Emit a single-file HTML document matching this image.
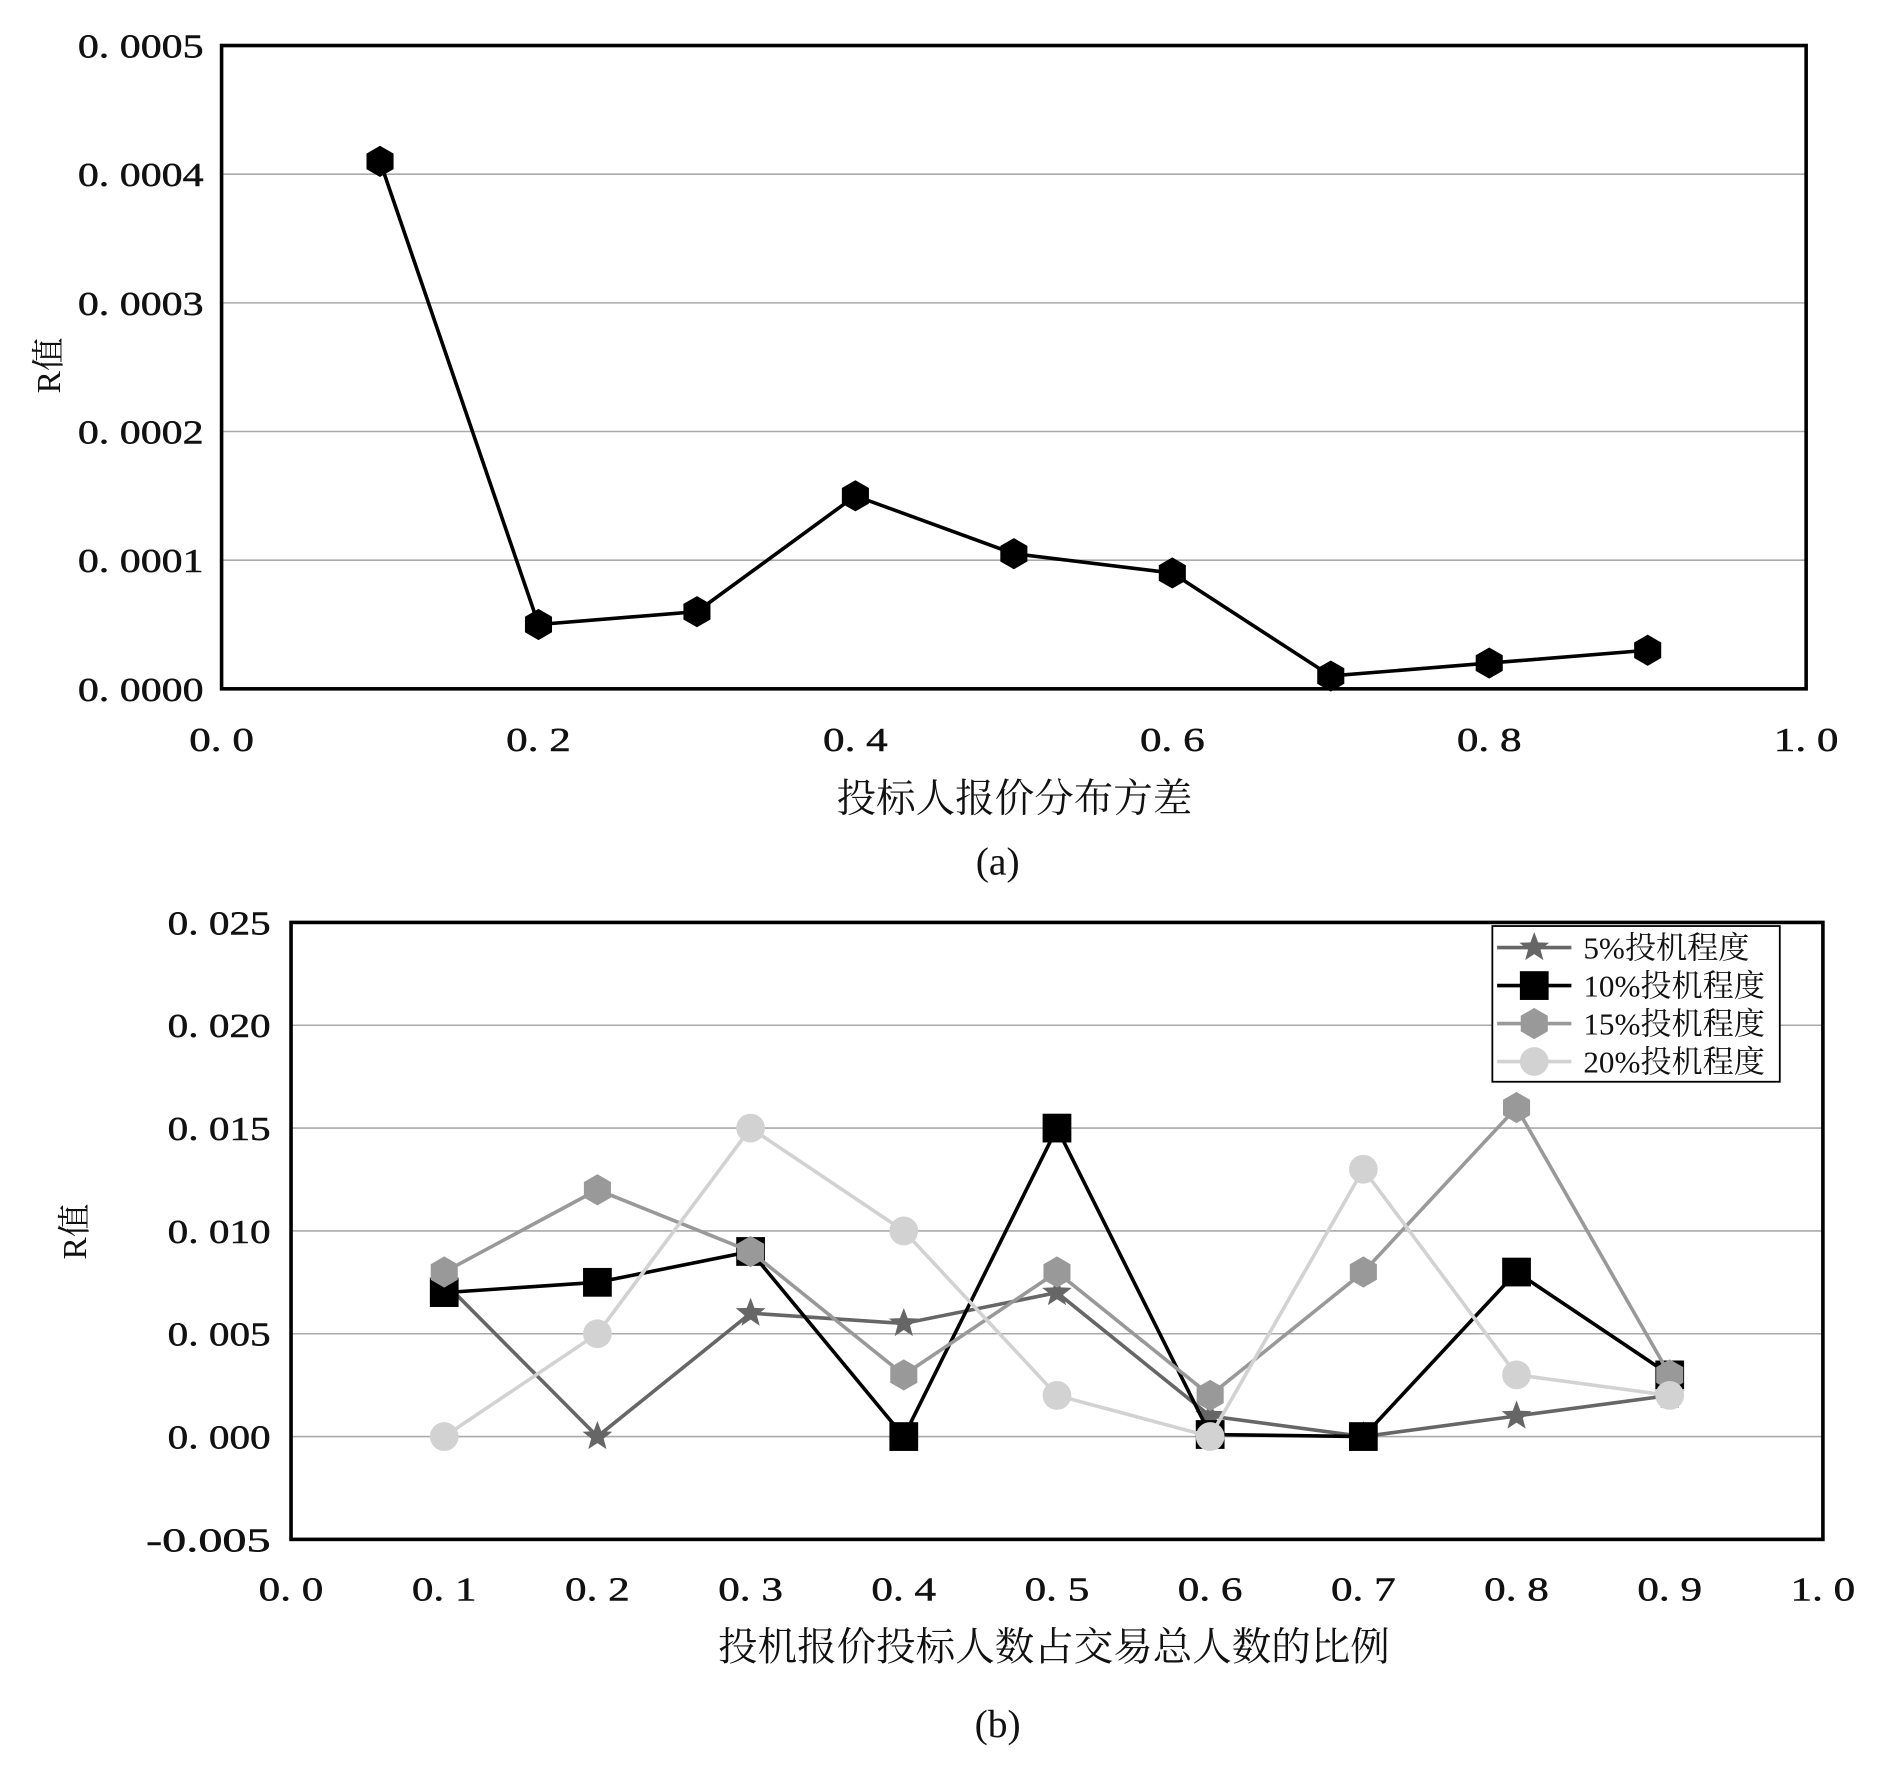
<!DOCTYPE html>
<html><head><meta charset="utf-8"><style>
html,body{margin:0;padding:0;background:#fff;}
svg{display:block;}
text{font-family:"Liberation Serif","Noto Serif CJK SC","Noto Sans CJK SC",serif;fill:#111;}
.tk{stroke:#111;stroke-width:0.4;}
</style></head><body>
<svg id="root" width="1878" height="1767" viewBox="0 0 1568 1475" preserveAspectRatio="none">
<g id="ca"></g>
<g id="cb"></g>
</svg>
<script>
const aX=[0.1,0.2,0.3,0.4,0.5,0.6,0.7,0.8,0.9];
const aY=[0.00041,0.00005,0.00006,0.00015,0.000105,0.00009,0.00001,0.00002,0.00003];
const aYTicks=[0,0.0001,0.0002,0.0003,0.0004,0.0005];
const aYTickLabels=["0. 0000","0. 0001","0. 0002","0. 0003","0. 0004","0. 0005"];
const aXTicks=[0,0.2,0.4,0.6,0.8,1.0];
const aXTickLabels=["0. 0","0. 2","0. 4","0. 6","0. 8","1. 0"];

const bX=[0.1,0.2,0.3,0.4,0.5,0.6,0.7,0.8,0.9];
const bS5=[0.0075,0,0.006,0.0055,0.007,0.001,0,0.001,0.002];
const bS10=[0.007,0.0075,0.009,0,0.015,0.0001,0,0.008,0.003];
const bS15=[0.008,0.012,0.009,0.003,0.008,0.002,0.008,0.016,0.003];
const bS20=[0,0.005,0.015,0.010,0.002,0,0.013,0.003,0.002];
const bSeriesNames=["5%投机程度","10%投机程度","15%投机程度","20%投机程度"];
const bYTicks=[-0.005,0,0.005,0.010,0.015,0.020,0.025];
const bYTickLabels=["-0.005","0. 000","0. 005","0. 010","0. 015","0. 020","0. 025"];
const bXTicks=[0,0.1,0.2,0.3,0.4,0.5,0.6,0.7,0.8,0.9,1.0];
const bXTickLabels=["0. 0","0. 1","0. 2","0. 3","0. 4","0. 5","0. 6","0. 7","0. 8","0. 9","1. 0"];

const NS="http://www.w3.org/2000/svg";
function mk(p,t,at,txt){const e=document.createElementNS(NS,t);for(const k in at)e.setAttribute(k,at[k]);if(txt!=null)e.textContent=txt;p.appendChild(e);return e;}
function hex(cx,cy,r){let p=[];for(let i=0;i<6;i++){const a=Math.PI/3*i-Math.PI/2;p.push((cx+r*Math.cos(a)).toFixed(1)+","+(cy+r*Math.sin(a)).toFixed(1));}return p.join(" ");}
function star(cx,cy,r){let p=[];for(let i=0;i<10;i++){const rr=i%2?r*0.42:r;const a=Math.PI/5*i-Math.PI/2;p.push((cx+rr*Math.cos(a)).toFixed(1)+","+(cy+rr*Math.sin(a)).toFixed(1));}return p.join(" ");}
function marker(g,type,x,y,c,r){
  let e;
  if(type==="hex")e=mk(g,"polygon",{points:hex(x,y,r),fill:c});
  else if(type==="star")e=mk(g,"polygon",{points:star(x,y,r),fill:c});
  else if(type==="sq")e=mk(g,"rect",{x:x-r,y:y-r,width:2*r,height:2*r,fill:c});
  else e=mk(g,"circle",{cx:x,cy:y,r:r,fill:c});
  
  
  return e;
}

// Chart A
(function(){
const g=document.getElementById("ca");
const L=185,R=1508,T=38,B=575;
const xs=v=>L+(R-L)*v, ys=v=>B-(B-T)*v/0.0005;
aYTicks.forEach((t,i)=>{
  if(i>0&&i<aYTicks.length-1){const l=mk(g,"line",{x1:L,x2:R,y1:ys(t),y2:ys(t),stroke:"#aaa","stroke-width":1.3});
  }
  const tx=mk(g,"text",{class:"tk",x:170,y:ys(t)+10,"text-anchor":"end","font-size":28,textLength:105,lengthAdjust:"spacingAndGlyphs"},aYTickLabels[i]);
  
});
aXTicks.forEach((t,i)=>{
  const tx=mk(g,"text",{class:"tk",x:xs(t),y:627,"text-anchor":"middle","font-size":28,textLength:54,lengthAdjust:"spacingAndGlyphs"},aXTickLabels[i]);
  
});
const fr=mk(g,"rect",{x:L,y:T,width:R-L,height:B-T,fill:"none",stroke:"#000","stroke-width":3});

const pl=mk(g,"polyline",{points:aX.map((x,i)=>xs(x)+","+ys(aY[i])).join(" "),fill:"none",stroke:"#000","stroke-width":3});

aX.forEach((x,i)=>marker(g,"hex",xs(x),ys(aY[i]),"#000",13));
const yt=mk(g,"text",{x:0,y:0,transform:"translate(50,305) rotate(-90)","text-anchor":"middle","font-size":28},"R值");

const xt=mk(g,"text",{x:847,y:678,"text-anchor":"middle","font-size":33},"投标人报价分布方差");

const cap=mk(g,"text",{x:833,y:730,"text-anchor":"middle","font-size":33},"(a)");

})();

// Chart B
(function(){
const g=document.getElementById("cb");
const L=243,R=1522,T=770,B=1285;
const xs=v=>L+(R-L)*v, ys=v=>B-(B-T)*(v+0.005)/0.03;
bYTicks.forEach((t,i)=>{
  if(i>0&&i<bYTicks.length-1){const l=mk(g,"line",{x1:L,x2:R,y1:ys(t),y2:ys(t),stroke:"#aaa","stroke-width":1.3});
  }
  const tx=mk(g,"text",{class:"tk",x:226,y:ys(t)+10,"text-anchor":"end","font-size":28,textLength:i===0?104:86,lengthAdjust:"spacingAndGlyphs"},bYTickLabels[i]);
  
});
bXTicks.forEach((t,i)=>{
  const tx=mk(g,"text",{class:"tk",x:xs(t),y:1336,"text-anchor":"middle","font-size":28,textLength:54,lengthAdjust:"spacingAndGlyphs"},bXTickLabels[i]);
  
});
const fr=mk(g,"rect",{x:L,y:T,width:R-L,height:B-T,fill:"none",stroke:"#000","stroke-width":3});

const series=[[bS5,"#666","star",13,3],[bS10,"#000","sq",12,3],[bS15,"#999","hex",13,3],[bS20,"#d2d2d2","circle",12,3]];
series.forEach(([d,c,m,r,w],si)=>{
  const pl=mk(g,"polyline",{points:bX.map((x,i)=>xs(x)+","+ys(d[i])).join(" "),fill:"none",stroke:c,"stroke-width":w});
  
  bX.forEach((x,i)=>marker(g,m,xs(x),ys(d[i]),c,r));
});
const lg=mk(g,"g",{});

mk(lg,"rect",{x:1246,y:773,width:240,height:130,fill:"#fff",stroke:"#000","stroke-width":1.5});
series.forEach(([d,c,m,r],si)=>{
  const y=791+si*31.7;
  mk(lg,"line",{x1:1250,x2:1312,y1:y,y2:y,stroke:c,"stroke-width":3});
  marker(lg,m,1281,y,c,r);
  const t=mk(lg,"text",{x:1322,y:y+9,"font-size":26},bSeriesNames[si]);
  
});
const yt=mk(g,"text",{x:0,y:0,transform:"translate(72,1028) rotate(-90)","text-anchor":"middle","font-size":28},"R值");

const xt=mk(g,"text",{x:880,y:1386,"text-anchor":"middle","font-size":33},"投机报价投标人数占交易总人数的比例");

const cap=mk(g,"text",{x:833,y:1450,"text-anchor":"middle","font-size":33},"(b)");

})();
</script>
</body></html>
